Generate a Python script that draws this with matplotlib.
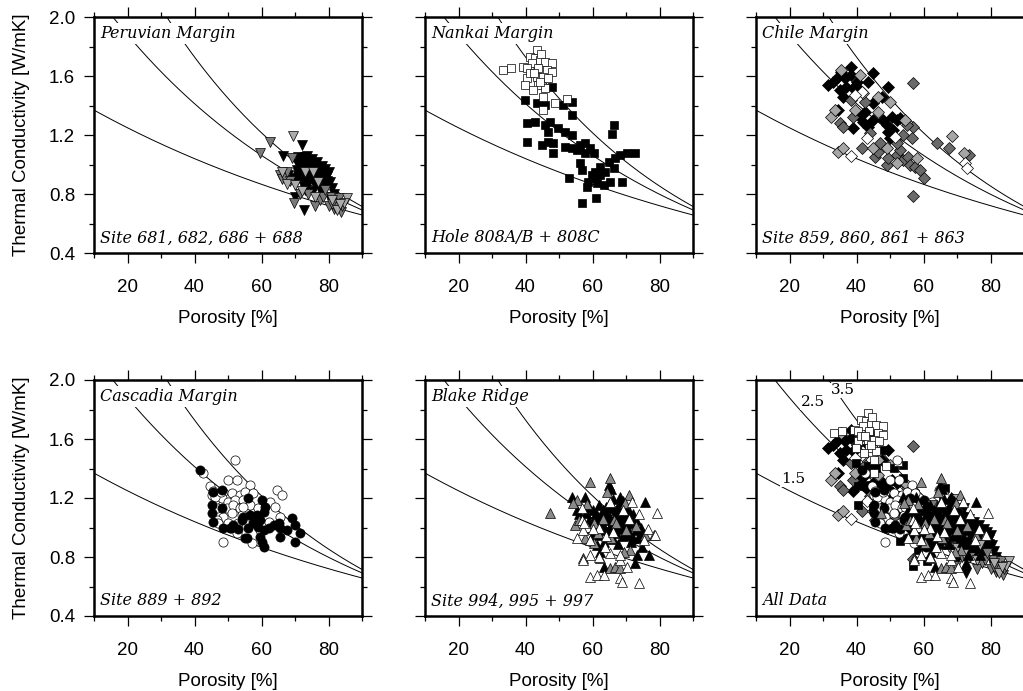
import numpy as np
import matplotlib.pyplot as plt
from matplotlib.ticker import MultipleLocator

plt.rcParams['font.family'] = ['Liberation Sans', 'DejaVu Sans']

# ---- data (porosity %, thermal conductivity W/mK) ----
peru_black = [(72.2, 1.13), (66.4, 1.06), (71, 1.05), (72, 1.04), (73, 1.05), (74, 1.03), (75, 1.04),
              (73.5, 1.00), (71.5, 0.98), (70.5, 0.96), (72.5, 0.95), (74.5, 0.97), (76, 0.98), (77, 0.96),
              (78, 0.99), (79, 0.97), (80, 0.95), (79.5, 0.92), (78.5, 0.90), (77.5, 0.93), (76, 0.92),
              (75, 0.90), (74, 0.93), (73, 0.91), (72, 0.89), (71, 0.92), (69.5, 0.91), (70, 0.88),
              (72.5, 0.86), (74, 0.87), (76, 0.86), (77.5, 0.84), (79, 0.86), (80.5, 0.88), (81, 0.84),
              (78, 0.80), (75.5, 0.82), (73, 0.83), (70.1, 0.78), (72.6, 0.69), (80, 0.78), (82, 0.74),
              (74.5, 1.01), (76.5, 1.02), (68, 0.93), (71, 0.94), (73.5, 1.06), (75.5, 0.99), (77, 0.90),
              (78.5, 0.95), (79.5, 0.89), (81.5, 0.80), (70.5, 1.01), (72.5, 1.00)]
peru_gray = [(62.4, 1.155), (59.6, 1.076), (69.1, 1.042), (65.6, 0.93), (66.1, 0.90), (67, 0.91),
             (68.5, 0.89), (69.6, 0.74), (76.1, 0.72), (77.6, 0.76), (80.6, 0.78), (82.6, 0.74),
             (83.6, 0.68), (81.6, 0.70), (84, 0.72), (82, 0.71), (78.5, 0.78), (80, 0.72), (74, 0.80),
             (71.5, 0.80), (83, 0.77), (79, 0.83), (67.5, 0.95), (81, 0.73)]
peru_light = [(69.3, 1.19), (66, 0.95), (67.5, 0.87), (70, 0.86), (85.6, 0.77), (84.5, 0.74), (81, 0.76),
              (73, 0.95), (75.5, 0.95), (77, 0.88), (72, 0.82), (76, 0.78), (82.5, 0.69), (83.5, 0.73)]

nankai_a = [(33.3, 1.64), (35.8, 1.652), (39.3, 1.663), (43.3, 1.776), (41.3, 1.73), (42.8, 1.72),
            (44.3, 1.71), (45.8, 1.697), (47.8, 1.686), (41.8, 1.686), (40.3, 1.652), (43.8, 1.652),
            (46.3, 1.64), (47.8, 1.63), (40.3, 1.584), (43.3, 1.595), (45.3, 1.595), (39.8, 1.539),
            (43.8, 1.539), (45.8, 1.516), (42.3, 1.505), (45.3, 1.46), (48.8, 1.415), (52.5, 1.444),
            (45.3, 1.37), (44.3, 1.56), (41.3, 1.618), (46.8, 1.584), (44.5, 1.75), (42.5, 1.62)]
nankai_c = [(47.8, 1.528), (39.8, 1.437), (43.3, 1.415), (45.8, 1.403), (51.3, 1.403), (53.8, 1.426),
            (53.8, 1.336), (40.3, 1.279), (42.8, 1.29), (45.8, 1.268), (47.3, 1.29), (46.8, 1.223),
            (49.8, 1.245), (51.8, 1.223), (53.8, 1.20), (40.3, 1.155), (44.8, 1.132), (46.8, 1.155),
            (48.3, 1.143), (48.3, 1.076), (51.8, 1.121), (53.8, 1.11), (55.3, 1.098), (56.3, 1.132),
            (57.8, 1.143), (59.3, 1.11), (60.3, 1.076), (57.8, 1.076), (56.3, 1.008), (56.8, 0.963),
            (60.8, 0.951), (62.3, 0.929), (63.8, 0.951), (60.3, 0.906), (58.8, 0.884), (58.3, 0.85),
            (61.3, 0.872), (63.3, 0.861), (65.3, 0.884), (66.3, 0.974), (66.8, 1.042), (68.3, 1.064),
            (70.3, 1.076), (72.8, 1.076), (66.3, 1.268), (65.8, 1.205), (53.1, 0.906), (56.8, 0.737),
            (61.1, 0.771), (68.8, 0.884), (62.3, 0.985), (64.8, 1.019), (59.8, 0.929)]

chile_black = [(38.5, 1.663), (35.5, 1.629), (31.5, 1.539), (33, 1.561), (34.5, 1.595), (36.5, 1.584),
               (38.5, 1.606), (40, 1.561), (37, 1.527), (35, 1.505), (39, 1.516), (36, 1.46), (41, 1.505),
               (43.5, 1.561), (45, 1.618), (49.5, 1.527), (47.5, 1.46), (45, 1.414), (42.5, 1.358),
               (40.5, 1.335), (34.5, 1.369), (39, 1.245), (45, 1.301), (48, 1.301), (49, 1.267),
               (50.5, 1.324), (52, 1.301), (49.5, 1.222), (51, 1.233), (53, 1.313), (50, 1.177),
               (43.5, 1.256), (42, 1.29)]
chile_dark = [(57, 1.554), (35, 1.279), (36, 1.256), (39, 1.324), (42.5, 1.426), (44, 1.211),
              (41.5, 1.109), (45.5, 1.053), (46.5, 1.087), (49, 1.0), (49.5, 1.041), (52, 1.064),
              (53, 1.098), (54, 1.03), (55.5, 1.053), (56, 1.0), (57.5, 0.985), (59, 0.962), (60, 0.906),
              (57, 0.786), (64, 1.143), (67.5, 1.109), (73.5, 1.064), (54, 1.20), (56.5, 1.177),
              (57, 1.256), (52, 1.143), (47, 1.143), (55, 1.267), (38.5, 1.437)]
chile_light = [(35.5, 1.64), (41, 1.606), (32.5, 1.324), (33.5, 1.369), (34.5, 1.087), (36, 1.109),
               (39.5, 1.369), (46.5, 1.358), (46.5, 1.46), (50, 1.426), (45, 1.109), (52, 1.008),
               (58, 1.041), (68.5, 1.193), (72, 1.075), (54.5, 1.301), (42, 1.482), (49, 1.109)]
chile_white = [(38.5, 1.057), (72.5, 1.008), (73, 0.974), (43, 1.177), (41.5, 1.494), (51.5, 1.188),
               (39.5, 1.471)]

casc_open = [(52.1, 1.457), (50.1, 1.32), (52.6, 1.32), (56.6, 1.288), (64.6, 1.254), (66.1, 1.22),
             (48.6, 1.243), (51.1, 1.231), (53.6, 1.22), (55.1, 1.243), (57.6, 1.231), (46.1, 1.186),
             (48.1, 1.197), (50.1, 1.175), (52.1, 1.186), (54.6, 1.186), (46.6, 1.13), (49.6, 1.13),
             (51.6, 1.152), (53.6, 1.13), (56.6, 1.152), (62.6, 1.175), (64.1, 1.141), (48.6, 1.073),
             (51.1, 1.096), (54.1, 1.085), (46.6, 1.051), (50.1, 1.028), (53.1, 1.028), (57.6, 1.051),
             (62.1, 1.039), (65.6, 1.073), (48.6, 0.904), (52.6, 0.96), (57.1, 0.892), (59.6, 0.983),
             (45.1, 1.22), (54.6, 1.141), (59.1, 1.13), (42.6, 1.37), (44.6, 1.28), (45.5, 1.25),
             (47, 1.03), (46, 1.21), (48, 1.24)]
casc_filled = [(45.6, 1.243), (48.1, 1.254), (45.1, 1.152), (48.1, 1.13), (45.6, 1.039), (48.6, 0.994),
               (51.6, 1.017), (54.1, 1.051), (56.6, 1.085), (56.1, 1.197), (60.1, 1.186), (61.1, 1.141),
               (60.6, 1.107), (58.6, 1.085), (59.6, 1.051), (57.6, 1.028), (56.1, 0.994), (59.1, 1.005),
               (60.6, 0.983), (62.1, 0.994), (63.6, 1.017), (65.1, 1.028), (65.6, 0.994), (69.1, 1.062),
               (70.1, 1.017), (67.6, 0.983), (71.6, 0.96), (70.1, 0.904), (65.6, 0.938), (55.6, 0.926),
               (59.6, 0.938), (60.1, 0.904), (60.6, 0.87), (54.6, 1.073), (50.6, 0.994), (41.6, 1.39),
               (45.2, 1.10), (51, 1.0), (53, 0.99), (55, 0.93)]

blake_black = [(53.8, 1.21), (57.8, 1.21), (64.8, 1.29), (65.5, 1.26), (68.3, 1.21), (69, 1.18),
               (75.8, 1.175), (63.3, 0.735), (72.8, 0.757), (76.8, 0.814), (74.8, 0.87), (73.3, 0.814),
               (62.3, 0.837), (61.3, 0.882), (58, 1.10), (59, 1.05), (60, 1.12), (61, 1.07), (62, 1.15),
               (63, 1.02), (64, 1.10), (65, 1.16), (66, 1.05), (67, 1.12), (68, 0.99), (69, 1.08),
               (70, 1.14), (71, 1.03), (72, 1.09), (73, 0.98), (58.5, 1.00), (60.5, 0.97), (62.5, 1.08),
               (64.5, 0.96), (66.5, 1.00), (68.5, 1.10), (70.5, 0.95), (72.5, 1.04), (74.5, 1.00),
               (59, 1.14), (61, 1.01), (63, 1.12), (65, 0.99), (67, 1.07), (69, 0.94), (71, 1.11),
               (73, 1.05), (60, 1.04), (62, 0.95), (64, 1.05), (66, 1.13), (68, 1.04), (70, 1.01),
               (72, 0.93), (61, 1.10), (63, 0.98), (65, 1.08), (67, 0.96), (69, 1.02), (71, 0.97),
               (62, 1.03), (64, 1.14), (66, 0.92), (68, 1.15), (70, 1.07), (57, 1.06), (59.5, 0.92),
               (66, 1.19), (73.5, 0.93), (75, 0.96), (63.5, 0.90), (67.5, 0.89), (71.5, 0.90), (56, 1.09),
               (55.5, 1.12), (65.5, 1.02), (67.5, 1.10), (63.5, 1.06), (69.5, 1.05), (61.5, 1.04)]
blake_gray = [(47.3, 1.096), (59.3, 1.311), (65.3, 1.333), (64.3, 1.243), (70.8, 1.22), (55.3, 1.187),
              (54.8, 1.017), (57.8, 0.927), (57.3, 0.791), (65.3, 0.723), (66.8, 0.735), (68.3, 0.723),
              (62.3, 0.791), (71.3, 0.848), (69.3, 0.837), (78.3, 0.949), (75.8, 0.949), (60.3, 0.893),
              (66.3, 1.051), (69.8, 1.164), (54.3, 1.164), (60.5, 1.03), (63, 1.06), (67, 1.03),
              (70, 0.98), (73, 1.01), (61.5, 0.96), (56, 1.05), (58.5, 1.16), (65.5, 0.93)]
blake_white = [(79.3, 1.096), (55.3, 0.927), (58.3, 1.006), (59.3, 0.814), (61.8, 0.802), (59.3, 0.667),
               (61.3, 0.678), (63.3, 0.678), (68.3, 0.655), (68.8, 0.633), (73.8, 0.622), (57.3, 0.78),
               (68.3, 0.78), (70.3, 0.735), (65.3, 0.825), (68.3, 0.814), (56.8, 1.13), (57.3, 0.983),
               (56.8, 1.051), (71.8, 1.175), (75.3, 0.915), (78.8, 0.949), (65.3, 1.175), (63.8, 0.87),
               (59.3, 0.915), (62, 1.00), (64, 0.94), (66, 0.97), (69, 1.12), (71, 1.06), (60, 0.99),
               (57.5, 1.03), (74, 1.09), (76.5, 0.99)]

matrix_k = [1.5, 2.5, 3.5]
water_k = 0.6

# marker, size, list of (points, facecolor)
sets = {
    'peru': ('v', 7.2, [(peru_black, 'black'), (peru_gray, '#7a7a7a'), (peru_light, '#ababab')]),
    'nankai': ('s', 6.2, [(nankai_c, 'black'), (nankai_a, 'white')]),
    'chile': ('D', 6.0, [(chile_black, 'black'), (chile_dark, '#6a6a6a'), (chile_light, '#a6a6a6'),
                         (chile_white, 'white')]),
    'casc': ('o', 6.6, [(casc_open, 'white'), (casc_filled, 'black')]),
    'blake': ('^', 7.2, [(blake_black, 'black'), (blake_gray, '#8a8a8a'), (blake_white, 'white')]),
}

panels = [
    ('Peruvian Margin', 'Site 681, 682, 686 + 688', ['peru']),
    ('Nankai Margin', 'Hole 808A/B + 808C', ['nankai']),
    ('Chile Margin', 'Site 859, 860, 861 + 863', ['chile']),
    ('Cascadia Margin', 'Site 889 + 892', ['casc']),
    ('Blake Ridge', 'Site 994, 995 + 997', ['blake']),
    (None, 'All Data', ['chile', 'nankai', 'casc', 'peru', 'blake']),
]

fig = plt.figure(figsize=(10.23, 6.91), dpi=100)
W, H = 1023.0, 691.0
lefts = [94, 425, 756]
tops = [17, 380]
aw, ah = 268, 236

phi = np.linspace(0.0, 1.0, 400)
ser = {'family': 'DejaVu Serif', 'style': 'italic', 'size': 11.5}

for i, (title, site, keys) in enumerate(panels):
    r, c = divmod(i, 3)
    ax = fig.add_axes([lefts[c] / W, 1 - (tops[r] + ah) / H, aw / W, ah / H])

    for ks in matrix_k:
        k = ks ** (1 - phi) * water_k ** phi
        ax.plot(phi * 100, k, color='black', lw=0.7, zorder=1)

    for key in keys:
        mk, ms, groups = sets[key]
        for pts, fc in groups:
            pts = np.array(pts)
            ax.plot(pts[:, 0], pts[:, 1], ls='none', marker=mk, ms=ms, mfc=fc,
                    mec='black', mew=0.5, zorder=2)

    ax.set_xlim(10, 90)
    ax.set_ylim(0.4, 2.0)
    ax.xaxis.set_major_locator(MultipleLocator(20))
    ax.xaxis.set_minor_locator(MultipleLocator(10))
    ax.yaxis.set_major_locator(MultipleLocator(0.4))
    ax.yaxis.set_minor_locator(MultipleLocator(0.2))
    ax.tick_params(which='both', direction='out', top=True, right=True, width=0.9, labelsize=13.5)
    ax.tick_params(which='major', length=7.5)
    ax.tick_params(which='minor', length=3.8)
    ax.tick_params(axis='x', which='major', pad=11)
    ax.tick_params(axis='y', which='major', pad=6)
    ax.set_xticks([20, 40, 60, 80])
    ax.set_xticklabels(['20', '40', '60', '80'])
    ax.set_yticks([0.4, 0.8, 1.2, 1.6, 2.0])
    if c == 0:
        ax.set_yticklabels(['0.4', '0.8', '1.2', '1.6', '2.0'])
        ax.set_ylabel('Thermal Conductivity [W/mK]', fontsize=13.5, labelpad=14)
    else:
        ax.set_yticklabels([])
    ax.set_xlabel('Porosity [%]', fontsize=13.5, labelpad=10)
    for s in ax.spines.values():
        s.set_linewidth(1.8)

    if title:
        ax.text(0.022, 0.965, title, transform=ax.transAxes, ha='left', va='top', zorder=3,
                bbox=dict(fc='white', ec='none', pad=1.5), **ser)
    ax.text(0.022, 0.045, site, transform=ax.transAxes, ha='left', va='baseline', zorder=3, **ser)

    if title is None:
        for lab, lx, ly in [('3.5', 36, 1.93), ('2.5', 27, 1.85), ('1.5', 21, 1.33)]:
            ax.text(lx, ly, lab, ha='center', va='center', family='DejaVu Serif', size=11, zorder=3,
                    bbox=dict(fc='white', ec='none', pad=0.5))

fig.savefig('out.png', dpi=100)
